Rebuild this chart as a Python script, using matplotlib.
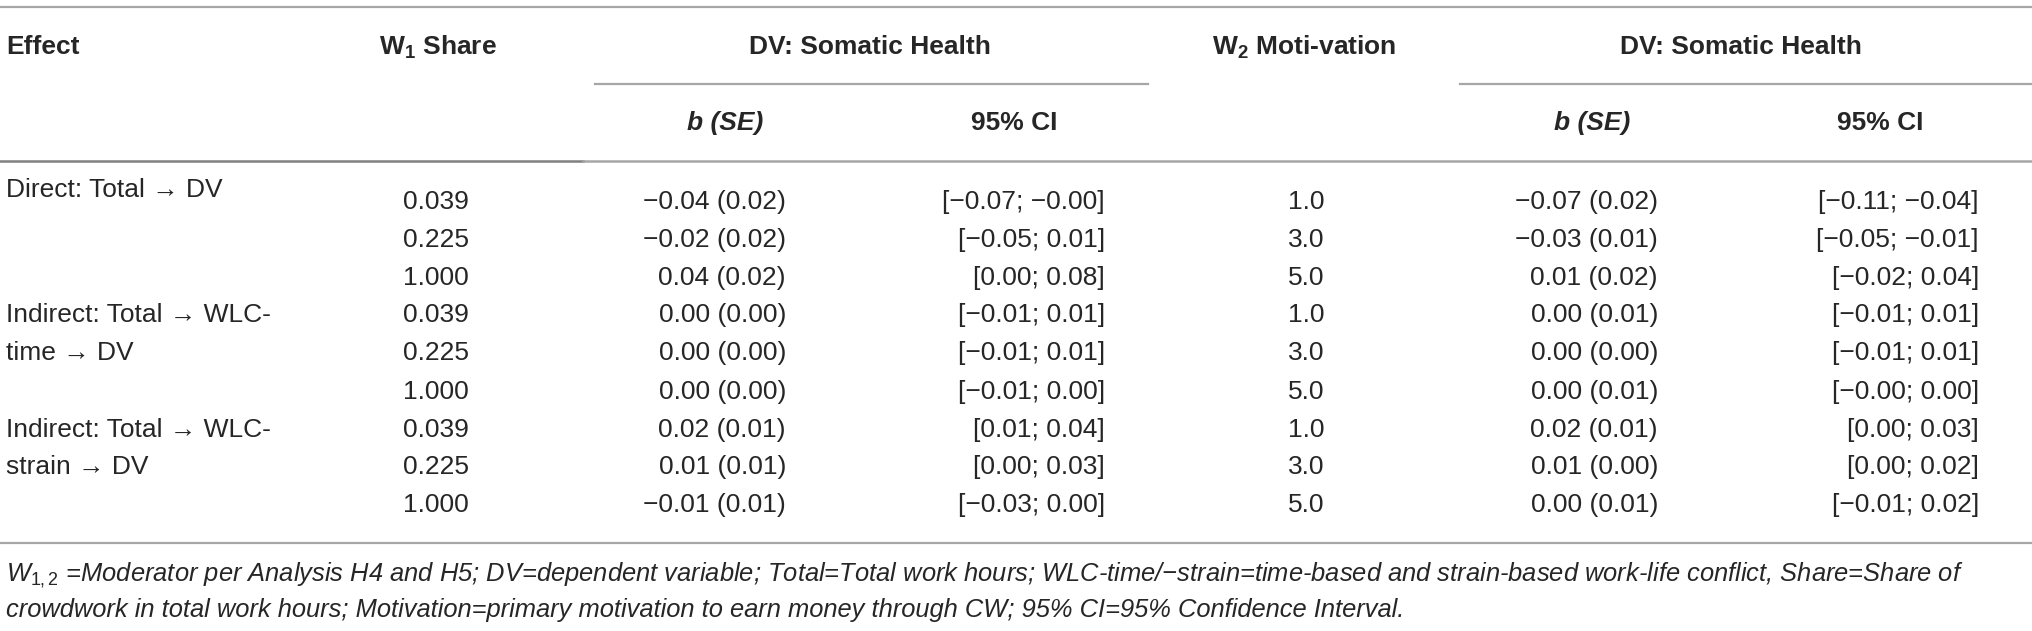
import matplotlib

matplotlib.use("Agg")

import matplotlib.pyplot as plt

plt.rcParams["font.family"] = ["Liberation Sans", "DejaVu Sans"]
plt.rcParams["mathtext.fontset"] = "custom"
plt.rcParams["mathtext.rm"] = "Liberation Sans"
plt.rcParams["mathtext.it"] = "Liberation Sans:italic"
plt.rcParams["mathtext.bf"] = "Liberation Sans:bold"

# table content
effect_labels = [
    "Direct: Total → DV",
    "Indirect: Total → WLC-",
    "time → DV",
    "Indirect: Total → WLC-",
    "strain → DV",
]
share_values = ["0.039", "0.225", "1.000"] * 3
share_b_se = [
    "−0.04 (0.02)", "−0.02 (0.02)", "0.04 (0.02)",
    "0.00 (0.00)", "0.00 (0.00)", "0.00 (0.00)",
    "0.02 (0.01)", "0.01 (0.01)", "−0.01 (0.01)",
]
share_ci = [
    "[−0.07; −0.00]", "[−0.05; 0.01]", "[0.00; 0.08]",
    "[−0.01; 0.01]", "[−0.01; 0.01]", "[−0.01; 0.00]",
    "[0.01; 0.04]", "[0.00; 0.03]", "[−0.03; 0.00]",
]
motivation_values = ["1.0", "3.0", "5.0"] * 3
motivation_b_se = [
    "−0.07 (0.02)", "−0.03 (0.01)", "0.01 (0.02)",
    "0.00 (0.01)", "0.00 (0.00)", "0.00 (0.01)",
    "0.02 (0.01)", "0.01 (0.00)", "0.00 (0.01)",
]
motivation_ci = [
    "[−0.11; −0.04]", "[−0.05; −0.01]", "[−0.02; 0.04]",
    "[−0.01; 0.01]", "[−0.01; 0.01]", "[−0.00; 0.00]",
    "[0.00; 0.03]", "[0.00; 0.02]", "[−0.01; 0.02]",
]
footnote_lines = [
    r"$W_{1,2}$ =Moderator per Analysis H4 and H5; DV=dependent variable; Total=Total work hours; "
    "WLC-time/−strain=time-based and strain-based work-life conflict, Share=Share of",
    "crowdwork in total work hours; Motivation=primary motivation to earn money through CW; "
    "95% CI=95% Confidence Interval.",
]

W, H = 2032, 631
TEXT = "#262626"
LINE = "#a6a6a6"
FS = 19

fig = plt.figure(figsize=(W / 100, H / 100), dpi=100)
ax = fig.add_axes([0, 0, 1, 1])
ax.set_xlim(0, W)
ax.set_ylim(H, 0)
ax.axis("off")

# rules
ax.plot([0, W], [7, 7], color=LINE, lw=1.6)
ax.plot([595, 1148], [84, 84], color=LINE, lw=1.6)
ax.plot([1460, W], [84, 84], color=LINE, lw=1.6)
ax.plot([0, 583], [161, 161], color="#808080", lw=1.8)
ax.plot([583, W], [161, 161], color=LINE, lw=1.8)
ax.plot([0, W], [543, 543], color=LINE, lw=1.6)

# headers
hdr = dict(fontsize=FS, fontweight="bold", color=TEXT, va="center")
ax.text(6, 47, "Effect", ha="left", **hdr)
ax.text(438, 47, r"W$_{\mathbf{1}}$ Share", ha="center", **hdr)
ax.text(870, 47, "DV: Somatic Health", ha="center", **hdr)
ax.text(1304, 47, r"W$_{\mathbf{2}}$ Moti-vation", ha="center", **hdr)
ax.text(1741, 47, "DV: Somatic Health", ha="center", **hdr)
ax.text(725, 123, "b (SE)", ha="center", style="italic", **hdr)
ax.text(1014, 123, "95% CI", ha="center", **hdr)
ax.text(1592, 123, "b (SE)", ha="center", style="italic", **hdr)
ax.text(1880, 123, "95% CI", ha="center", **hdr)

# body
body = dict(fontsize=FS, color=TEXT, va="center")
label_y = [190, 315, 353, 430, 467]
for y, label in zip(label_y, effect_labels):
    ax.text(6, y, label, ha="left", **body)

row_y = [202, 240, 278, 315, 353, 392, 430, 467, 505]
columns = [
    (469, share_values),
    (786, share_b_se),
    (1105, share_ci),
    (1324, motivation_values),
    (1658, motivation_b_se),
    (1979, motivation_ci),
]
for x, values in columns:
    for y, value in zip(row_y, values):
        ax.text(x, y, value, ha="right", **body)

# footnote
for y, line in zip([575, 610], footnote_lines):
    ax.text(6, y, line, ha="left", style="italic", fontsize=18.4, color=TEXT, va="center")

fig.savefig("out.png", dpi=100)
